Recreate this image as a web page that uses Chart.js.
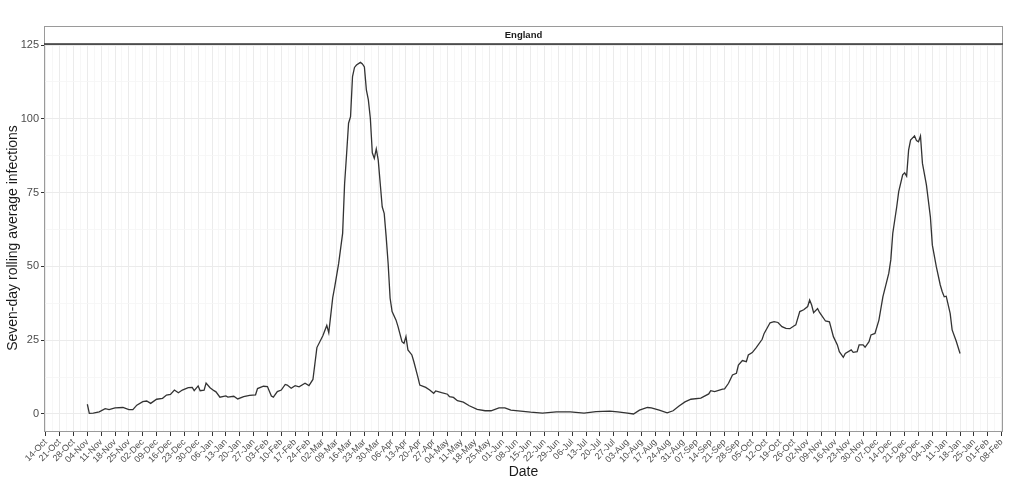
<!DOCTYPE html>
<html>
<head>
<meta charset="utf-8">
<script src="https://cdn.jsdelivr.net/npm/chart.js@4.4.1/dist/chart.umd.min.js"></script>
<style>
  html, body { margin: 0; padding: 0; background: #fff; }
  #wrap { width: 1024px; height: 483px; }
</style>
</head>
<body>
<div id="wrap"><canvas id="chart" width="1024" height="483"></canvas></div>
<script>
// dates are counted in days from 14-Oct-2019 (first tick on the axis)
const startDate = '2019-10-14';
const panelTitle = 'England';

const dayOffsets = [
  21, 22, 24, 27, 30, 32, 35, 39, 42, 44, 46, 49, 51, 53, 56, 59, 61, 63, 65, 67,
  69, 72, 74, 75, 77, 78, 80, 81, 83, 85, 86, 88, 91, 92, 95, 97, 100, 103, 106, 107,
  110, 112, 114, 115, 117, 119, 121, 122, 124, 126, 128, 131, 133, 135, 137, 140, 142, 143, 145, 146,
  148, 150, 151, 152, 153, 154, 155, 156, 157, 159, 160, 161, 162, 163, 164, 165, 166, 167, 168, 169,
  170, 171, 172, 173, 174, 175, 177, 178, 180, 181, 182, 183, 185, 186, 188, 189, 192, 194, 196, 197,
  200, 203, 204, 206, 208, 211, 214, 218, 222, 225, 229, 232, 235, 240, 245, 251, 258, 265, 272, 278,
  285, 289, 293, 297, 300, 304, 306, 310, 314, 317, 320, 323, 326, 331, 335, 336, 338, 342, 343, 345,
  347, 349, 350, 352, 354, 355, 357, 359, 362, 363, 366, 368, 370, 372, 374, 376, 378, 379, 381, 383,
  385, 386, 387, 388, 390, 391, 394, 396, 398, 400, 401, 403, 404, 407, 408, 410, 411, 413, 414, 416,
  417, 419, 421, 423, 426, 427, 428, 430, 431, 433, 434, 435, 436, 437, 439, 440, 441, 442, 443, 445,
  447, 448, 450, 452, 453, 454, 455, 457, 458, 460, 462
];

const infections = [
  3.3, 0.2, 0.3, 0.7, 1.8, 1.5, 2.1, 2.2, 1.5, 1.5, 3.0, 4.2, 4.4, 3.6, 5.0, 5.3, 6.4, 6.6, 8.1, 7.2,
  8.1, 8.9, 9.0, 7.9, 9.5, 7.9, 8.1, 10.5, 8.9, 7.9, 7.5, 5.7, 6.1, 5.7, 6.0, 5.1, 5.9, 6.3, 6.5, 8.6,
  9.4, 9.3, 6.1, 5.7, 7.6, 8.1, 10.0, 9.8, 8.7, 9.6, 9.2, 10.4, 9.6, 11.7, 22.5, 26.5, 30.0, 27.5, 39.4, 43.1,
  51.0, 61.2, 78.0, 88.0, 98.5, 100.7, 114.3, 117.4, 118.2, 119.1, 118.6, 117.6, 109.8, 106.4, 100.2, 88.5, 86.6, 89.8, 86.0, 78.1,
  70.2, 68.0, 60.1, 51.0, 39.2, 34.7, 31.8, 29.6, 24.5, 23.9, 26.2, 21.7, 20.0, 17.7, 12.6, 9.8, 9.0, 8.1, 7.0, 7.8,
  7.2, 6.7, 5.9, 5.6, 4.5, 4.0, 2.8, 1.6, 1.1, 1.1, 2.1, 2.1, 1.3, 1.0, 0.6, 0.3, 0.7, 0.7, 0.3, 0.8,
  1.0, 0.7, 0.4, 0.0, 1.3, 2.2, 2.1, 1.3, 0.4, 1.1, 2.7, 4.1, 5.0, 5.4, 6.8, 7.9, 7.6, 8.4, 8.5, 10.4,
  13.2, 13.8, 16.6, 18.1, 17.7, 20.0, 20.8, 22.5, 25.3, 27.3, 30.9, 31.3, 31.0, 29.6, 29.0, 28.9, 29.8, 30.2, 34.7, 35.3,
  36.4, 38.6, 36.9, 34.3, 35.7, 34.4, 31.5, 31.2, 26.2, 23.4, 21.1, 19.2, 20.5, 21.7, 20.9, 21.1, 23.4, 23.4, 22.6, 24.5,
  26.8, 27.3, 31.8, 39.7, 47.7, 52.2, 61.2, 70.2, 75.3, 81.0, 81.7, 80.6, 89.4, 92.8, 94.2, 92.6, 92.2, 94.2, 84.9, 77.6,
  66.8, 57.2, 49.9, 43.7, 41.4, 39.7, 39.9, 34.1, 28.5, 24.8, 20.5
];

// weekly breaks, one label per Monday
const tickLabels = [
  '14-Oct', '21-Oct', '28-Oct', '04-Nov', '11-Nov', '18-Nov', '25-Nov', '02-Dec', '09-Dec', '16-Dec',
  '23-Dec', '30-Dec', '06-Jan', '13-Jan', '20-Jan', '27-Jan', '03-Feb', '10-Feb', '17-Feb', '24-Feb',
  '02-Mar', '09-Mar', '16-Mar', '23-Mar', '30-Mar', '06-Apr', '13-Apr', '20-Apr', '27-Apr', '04-May',
  '11-May', '18-May', '25-May', '01-Jun', '08-Jun', '15-Jun', '22-Jun', '29-Jun', '06-Jul', '13-Jul',
  '20-Jul', '27-Jul', '03-Aug', '10-Aug', '17-Aug', '24-Aug', '31-Aug', '07-Sep', '14-Sep', '21-Sep',
  '28-Sep', '05-Oct', '12-Oct', '19-Oct', '26-Oct', '02-Nov', '09-Nov', '16-Nov', '23-Nov', '30-Nov',
  '07-Dec', '14-Dec', '21-Dec', '28-Dec', '04-Jan', '11-Jan', '18-Jan', '25-Jan', '01-Feb', '08-Feb'
];
const yTicks = [0, 25, 50, 75, 100, 125];

const FONT = "'Liberation Sans', Arial, sans-serif";
const majorGrid = '#ebebeb';
const minorGrid = '#f5f5f5';

const points = dayOffsets.map((d, i) => ({ x: d, y: infections[i] }));

// ggplot-like panel border + facet strip
const facetPlugin = {
    id: 'facet',
    beforeDraw(chart) {
        const c = chart.ctx;
        c.save();
        c.fillStyle = '#fff';
        c.fillRect(0, 0, chart.width, chart.height);
        c.restore();
    },
    afterDraw(chart) {
        const c = chart.ctx;
        const a = chart.chartArea;
        c.save();
        // strip
        c.fillStyle = '#fff';
        c.fillRect(a.left, 26, a.right - a.left, a.top - 26);
        c.strokeStyle = '#9a9a9a';
        c.lineWidth = 1;
        c.strokeRect(a.left + 0.5, 26.5, a.right - a.left - 1, a.top - 26);
        c.font = "bold 9.5px " + FONT;
        c.fillStyle = '#1a1a1a';
        c.textAlign = 'center';
        c.textBaseline = 'middle';
        c.fillText(panelTitle, (a.left + a.right) / 2, 35.5);
        // panel border
        c.strokeStyle = '#9a9a9a';
        c.strokeRect(a.left + 0.5, a.top + 0.5, a.right - a.left - 1, a.bottom - a.top - 1);
        c.strokeStyle = '#333';
        c.lineWidth = 1.3;
        c.beginPath();
        c.moveTo(a.left, a.top);
        c.lineTo(a.right, a.top);
        c.stroke();
        c.restore();
    }
};

new Chart(document.getElementById('chart'), {
    type: 'line',
    data: {
        datasets: [{
            data: points,
            borderColor: '#333333',
            borderWidth: 1.3,
            pointRadius: 0,
            tension: 0,
            fill: false
        }]
    },
    options: {
        responsive: false,
        animation: false,
        layout: { padding: { top: 44, right: 21, left: 0, bottom: 0 } },
        plugins: { legend: { display: false }, tooltip: { enabled: false } },
        scales: {
            x: {
                type: 'linear',
                min: -0.9,
                max: 483.7,
                afterBuildTicks: (scale) => {
                    const t = [];
                    for (let i = 0; i < tickLabels.length * 2 - 1; i++) t.push({ value: i * 3.5 });
                    scale.ticks = t;
                },
                afterFit: (scale) => { scale.height = 51; },
                border: { display: false },
                grid: {
                    color: (ctx) => (ctx.index % 2 === 0 ? majorGrid : minorGrid),
                    lineWidth: (ctx) => (ctx.index % 2 === 0 ? 1 : 0.8),
                    tickColor: (ctx) => (ctx.index % 2 === 0 ? '#333' : 'rgba(0,0,0,0)'),
                    tickLength: 4,
                    drawTicks: true
                },
                ticks: {
                    autoSkip: false,
                    minRotation: 45,
                    maxRotation: 45,
                    padding: 1,
                    color: '#4d4d4d',
                    font: { family: FONT, size: 9 },
                    callback: (v, i) => (i % 2 === 0 ? tickLabels[i / 2] : '')
                },
                title: {
                    display: true,
                    text: 'Date',
                    color: '#1a1a1a',
                    font: { family: FONT, size: 14 },
                    padding: { top: 0, bottom: 2 }
                }
            },
            y: {
                min: -6.1,
                max: 125.34,
                afterBuildTicks: (scale) => {
                    const t = [];
                    for (let v = 0; v <= 125; v += 12.5) t.push({ value: v });
                    scale.ticks = t;
                },
                afterFit: (scale) => { scale.width = 44; },
                border: { display: false },
                grid: {
                    color: (ctx) => (ctx.tick && yTicks.includes(ctx.tick.value) ? majorGrid : minorGrid),
                    lineWidth: (ctx) => (ctx.tick && yTicks.includes(ctx.tick.value) ? 1 : 0.8),
                    tickColor: (ctx) => (ctx.tick && yTicks.includes(ctx.tick.value) ? '#333' : 'rgba(0,0,0,0)'),
                    tickLength: 3
                },
                ticks: {
                    padding: 2,
                    color: '#4d4d4d',
                    font: { family: FONT, size: 11 },
                    callback: (v) => (yTicks.includes(v) ? String(v) : '')
                },
                title: {
                    display: true,
                    text: 'Seven-day rolling average infections',
                    color: '#1a1a1a',
                    font: { family: FONT, size: 14 },
                    padding: { top: 4.5, bottom: 0 }
                }
            }
        }
    },
    plugins: [facetPlugin]
});
</script>
</body>
</html>
